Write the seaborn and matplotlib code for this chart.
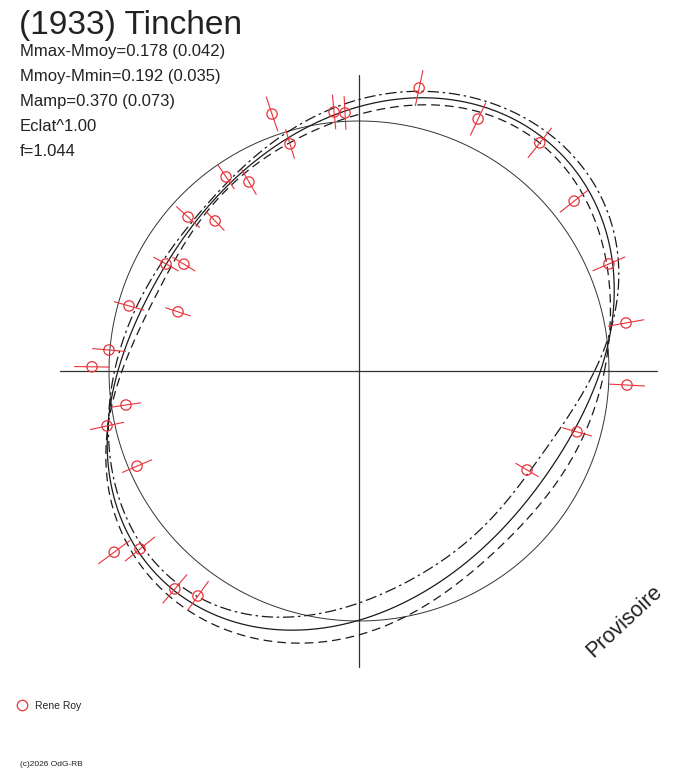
import numpy as np
import pandas as pd
import matplotlib
matplotlib.use("Agg")
import matplotlib.pyplot as plt
import seaborn as sns

# Polar lightcurve: angle = rotation phase (deg), radius grows with brightness.
# Reference circle radius = mean magnitude (Mmoy).
R_MEAN = 250

# Fitted curves (same radius units as R_MEAN)
fit_theta = [0, 10, 23, 31, 41, 49, 66, 77, 90, 106, 117, 135, 153, 158, 170, 180,
             195, 206, 219, 230, 249, 256, 270, 291, 308, 317, 344]
fit_main = [244, 257, 272, 282, 298, 301, 286, 281, 265, 246, 233, 222, 219, 222, 235, 241,
            256, 276, 286, 288, 274, 266, 250, 227, 214, 212, 222]
fit_dashdot = [238, 257, 279, 290, 306, 307, 293, 287, 273, 251, 236, 226, 223, 227, 240, 246,
               254, 271, 280, 281, 262, 250, 235, 209, 198, 198, 208]
fit_dashed = [250, 254, 267, 274, 290, 297, 279, 273, 258, 241, 230, 218, 214, 217, 228, 235,
              258, 280, 292, 294, 287, 278, 266, 237, 227, 223, 232]

# Observations (Rene Roy): phase angle, radius, error half-length
obs_theta = [108.7, 95.5, 93.1, 106.9, 124.4, 120.2, 138.0, 133.8, 151.0, 148.6,
             164.2, 161.9, 175.2, 179.1, 78.0, 64.7, 51.6, 38.3, 23.2, 10.2,
             357.0, 188.3, 192.3, 203.2, 216.5, 219.1, 229.8, 234.4, 344.4, 329.5]
obs_r = [271.3, 260.2, 258.4, 237.3, 235.2, 218.7, 230.1, 207.9, 220.7, 205.1,
         239.0, 190.4, 250.9, 267.0, 289.3, 278.7, 291.1, 274.1, 271.9, 271.3,
         268.4, 235.5, 257.9, 241.5, 304.6, 282.2, 285.3, 276.7, 226.4, 195.0]
obs_err = [18, 17, 16.5, 15, 14.3, 14.3, 15.5, 13, 14, 13,
           15.5, 13, 16.5, 17.5, 18, 17.8, 18.8, 17.8, 17.4, 18,
           17.5, 14.8, 17, 16, 19.4, 18.9, 18.5, 18, 15, 13]

title = "(1933) Tinchen"
info_lines = ["Mmax-Mmoy=0.178 (0.042)", "Mmoy-Mmin=0.192 (0.035)",
              "Mamp=0.370 (0.073)", "Eclat^1.00", "f=1.044"]

RED = "#e8333a"
INK = "#222222"
W, H = 688, 768
CX, CY = 359, 371      # pixel position of the plot centre
AXIS_HALF = 298


def closed_curve(theta_deg, r, order=5, n=1441):
    # smooth closed curve: low order Fourier least squares through the samples
    t = np.radians(np.asarray(theta_deg, dtype=float))
    r = np.asarray(r, dtype=float)

    def basis(a):
        cols = [np.ones_like(a)]
        for k in range(1, order + 1):
            cols += [np.cos(k * a), np.sin(k * a)]
        return np.column_stack(cols)

    coef, *_ = np.linalg.lstsq(basis(t), r, rcond=None)
    tt = np.linspace(0, 2 * np.pi, n)
    rr = basis(tt) @ coef
    return pd.DataFrame({"x": rr * np.cos(tt), "y": rr * np.sin(tt)})


sns.set_style("white")
plt.rcParams["font.family"] = ["Liberation Sans", "DejaVu Sans"]

fig = plt.figure(figsize=(W / 100, H / 100), dpi=100)
ax = fig.add_axes([0, 0, 1, 1])
ax.set_xlim(-CX, W - CX)
ax.set_ylim(-(H - CY), CY)
ax.axis("off")

# axes cross
ax.plot([-AXIS_HALF - 1, AXIS_HALF], [0, 0], color="#333333", lw=0.9, zorder=1)
ax.plot([0, 0], [-AXIS_HALF + 2, AXIS_HALF - 2], color="#333333", lw=0.9, zorder=1)

# mean circle
tc = np.linspace(0, 2 * np.pi, 721)
circle = pd.DataFrame({"x": R_MEAN * np.cos(tc), "y": R_MEAN * np.sin(tc)})
sns.lineplot(data=circle, x="x", y="y", sort=False, estimator=None, ax=ax,
             color="#333333", lw=0.7)

# fitted curves
curves = [
    (fit_main, "-", 0.9),
    (fit_dashdot, (0, (9, 3, 2, 3)), 0.9),
    (fit_dashed, (0, (7, 4)), 0.9),
]
for values, ls, lw in curves:
    df = closed_curve(fit_theta, values)
    sns.lineplot(data=df, x="x", y="y", sort=False, estimator=None, ax=ax,
                 color="#1a1a1a", lw=lw, linestyle=ls)

# observations with radial error bars
obs = pd.DataFrame({"theta": np.radians(obs_theta), "r": obs_r, "err": obs_err})
obs["x"] = obs["r"] * np.cos(obs["theta"])
obs["y"] = obs["r"] * np.sin(obs["theta"])
for _, row in obs.iterrows():
    r0, r1 = row["r"] - row["err"], row["r"] + row["err"]
    c, s = np.cos(row["theta"]), np.sin(row["theta"])
    ax.plot([r0 * c, r1 * c], [r0 * s, r1 * s], color=RED, lw=0.8, zorder=3)
sns.scatterplot(data=obs, x="x", y="y", ax=ax, marker="o", s=55,
                facecolor="none", edgecolor=RED, linewidth=0.9, zorder=4)
if ax.get_legend() is not None:
    ax.get_legend().remove()


def fx(px):
    return px / W


def fy(py):
    return 1 - py / H


fig.text(fx(19), fy(34), title, fontsize=24, color=INK, va="baseline")
for i, line in enumerate(info_lines):
    fig.text(fx(20), fy(56 + 25 * i), line, fontsize=12, color=INK, va="baseline")

fig.text(fx(624), fy(621), "Provisoire", fontsize=15.5, color=INK, rotation=43,
         ha="center", va="center", rotation_mode="anchor")

# legend
fig.lines.append(plt.Line2D([fx(22)], [fy(705)], transform=fig.transFigure,
                            marker="o", ms=7.5, mfc="none", mec=RED, mew=0.9, ls=""))
fig.text(fx(35), fy(709), "Rene Roy", fontsize=7.5, color=INK, va="baseline")
fig.text(fx(20), fy(766), "(c)2026 OdG-RB", fontsize=6, color=INK, va="baseline")

fig.savefig("out.png", dpi=100, facecolor="white")
